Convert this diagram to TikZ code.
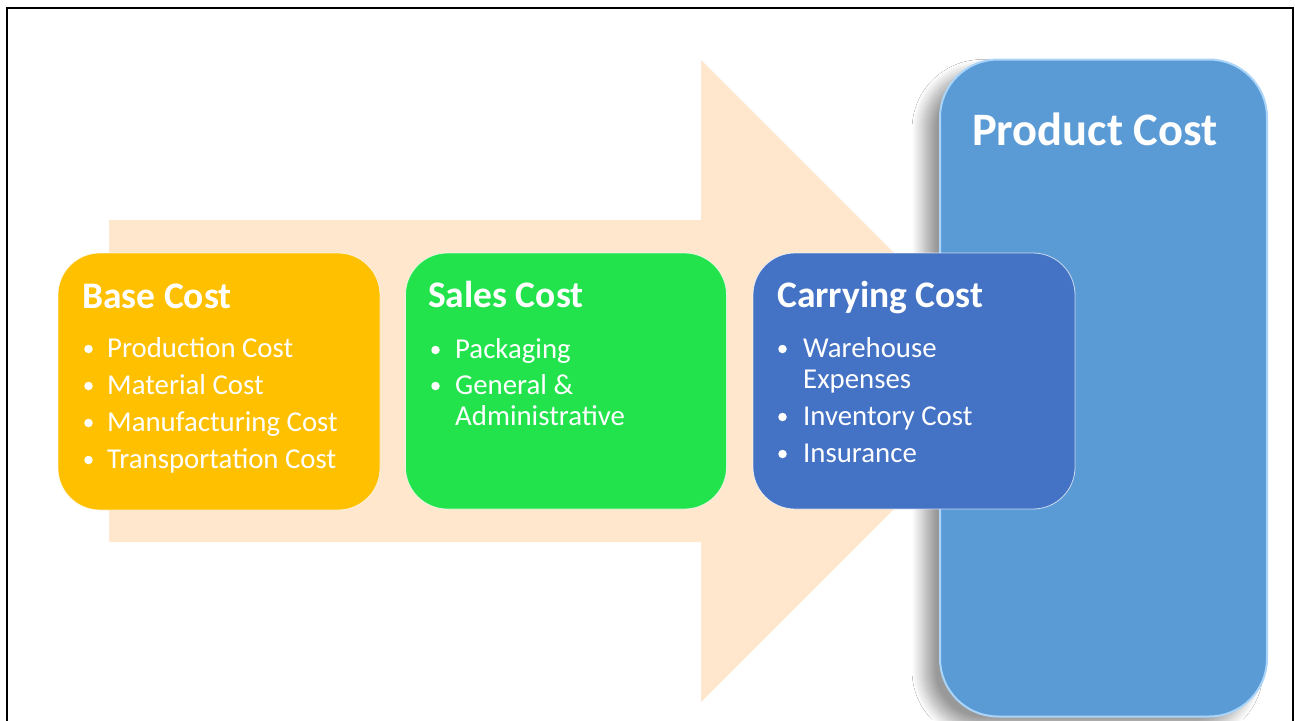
\documentclass[tikz,border=0pt]{standalone}
\usepackage{fontspec}
\setmainfont{Carlito}
\usetikzlibrary{shadows.blur}
\definecolor{arrowpeach}{RGB}{254,231,205}
\definecolor{basecol}{RGB}{255,192,0}
\definecolor{salescol}{RGB}{34,227,76}
\definecolor{carrycol}{RGB}{68,114,196}
\definecolor{prodcol}{RGB}{91,155,213}
\definecolor{prodrim}{RGB}{170,212,248}
\begin{document}
\begin{tikzpicture}[x=1pt,y=-1pt,
  card/.style={rectangle, rounded corners=42pt, draw=white, draw opacity=0.7, line width=0.8pt, inner sep=0pt},
  title/.style={anchor=base west, text=white, font=\fontsize{37.5}{40}\selectfont\bfseries, inner sep=0pt},
  bigtitle/.style={anchor=base west, text=white, font=\fontsize{46.5}{50}\selectfont\bfseries, inner sep=0pt},
  item/.style={anchor=base west, text=white, font=\fontsize{28.8}{31}\selectfont, inner sep=0pt},
  dot/.style={circle, fill=white, inner sep=0pt, minimum size=8.5pt}
]
\useasboundingbox (0,0) rectangle (1295,720);
\fill[white] (0,0) rectangle (1295,720);
% frame
\draw[line width=2pt, black] (6.5,722) -- (6.5,7.5) -- (1293,7.5) -- (1293,722);
% big arrow
\fill[arrowpeach] (109,220) -- (701,220) -- (701,60) -- (1022,381) -- (701,702) -- (701,542) -- (109,542) -- cycle;
% product cost box
\node[rectangle, rounded corners=58pt, fill=prodcol, draw=prodrim, line width=2pt,
      minimum width=327pt, minimum height=657pt, inner sep=0pt,
      blur shadow={shadow xshift=-16pt, shadow yshift=-12pt, shadow blur radius=12pt, shadow blur steps=20, shadow opacity=40}]
      (prod) at (1103.5,388) {};
\node[bigtitle] (prodt) at (972,145) {Product Cost};
% cards
\node[card, fill=basecol, minimum width=322pt, minimum height=257pt] (base) at (219,381.5) {};
\node[card, fill=salescol, minimum width=321pt, minimum height=256pt] (sales) at (566,381) {};
\node[card, fill=carrycol, minimum width=322pt, minimum height=256pt] (carry) at (914,381) {};
% base cost text
\node[title] (baset) at (82,308) {Base Cost};
\node[dot] (bd1) at (88.5,349) {};
\node[item] (b1) at (107,357) {Production Cost};
\node[dot] (bd2) at (88.5,386) {};
\node[item] (b2) at (107,394) {Material Cost};
\node[dot] (bd3) at (88.5,423) {};
\node[item] (b3) at (107,431) {Manufacturing Cost};
\node[dot] (bd4) at (88.5,460) {};
\node[item] (b4) at (107,468) {Transportation Cost};
% sales cost text
\node[title] (salest) at (428,307) {Sales Cost};
\node[dot] (sd1) at (435.5,350) {};
\node[item] (s1) at (455,358) {Packaging};
\node[dot] (sd2) at (435.5,386) {};
\node[item] (s2) at (455,394) {General \&};
\node[item] (s3) at (455,425) {Administrative};
% carrying cost text
\node[title] (carryt) at (777,307) {Carrying Cost};
\node[dot] (cd1) at (782.5,349) {};
\node[item] (c1) at (803,357) {Warehouse};
\node[item] (c2) at (803,388) {Expenses};
\node[dot] (cd2) at (782.5,417) {};
\node[item] (c3) at (803,425) {Inventory Cost};
\node[dot] (cd3) at (782.5,454) {};
\node[item] (c4) at (803,462) {Insurance};
\end{tikzpicture}
\end{document}
